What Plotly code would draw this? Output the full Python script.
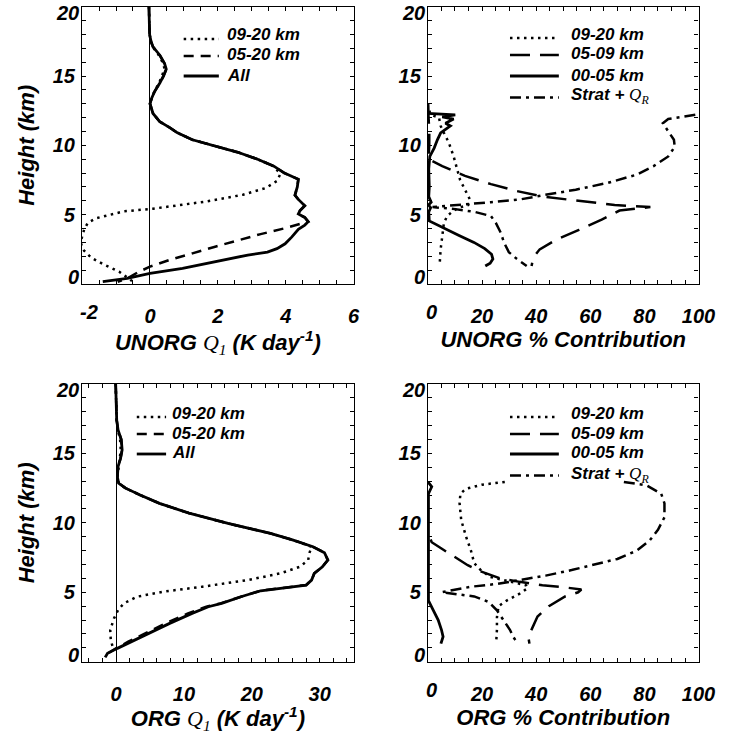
import plotly.graph_objects as go

SANS = "Liberation Sans"
SERIF = "Liberation Serif"

# ---------------- UNORG Q1 (K day-1) ----------------
uq_all_z = [20, 19, 18, 17.5, 17.1, 16.5, 15.9, 15.5, 15.0, 14.5, 13.9, 13.4, 13.0, 12.3, 11.7,
            11.3, 10.9, 10.4, 10.0, 9.5, 9.0, 8.5, 8.0, 7.55, 7.0, 6.4, 6.1, 5.65, 5.3, 5.05,
            4.8, 4.5, 4.25, 3.95, 3.4, 2.9, 2.55, 2.3, 2.09, 1.61, 1.13, 0.77, 0.41, 0.17]
uq_all_x = [-0.03, -0.03, -0.01, 0.03, 0.09, 0.29, 0.43, 0.48, 0.40, 0.29, 0.14, 0.05, 0.0, 0.09, 0.29,
            0.57, 0.81, 1.25, 1.82, 2.59, 3.17, 3.65, 3.96, 4.37, 4.34, 4.27, 4.37, 4.56, 4.42, 4.37,
            4.56, 4.66, 4.56, 4.37, 4.18, 3.98, 3.74, 3.46, 2.88, 1.92, 0.96, 0.0, -0.67, -1.39]

uq_0520_z = [20, 19, 18, 17.5, 17.1, 16.5, 15.9, 15.5, 15.0, 14.5, 13.9, 13.4, 13.0, 12.3, 11.7,
             11.3, 10.9, 10.4, 10.0, 9.5, 9.0, 8.5, 8.0, 7.55, 7.0, 6.4, 6.1, 5.65, 5.3, 5.05,
             4.8, 4.5, 4.33, 4.0, 3.6, 3.17, 2.69, 2.21, 1.73, 1.25, 0.85, 0.5, 0.15]
uq_0520_x = [-0.03, -0.03, -0.01, 0.03, 0.09, 0.29, 0.43, 0.48, 0.40, 0.29, 0.14, 0.05, 0.0, 0.09, 0.29,
             0.57, 0.81, 1.25, 1.82, 2.59, 3.17, 3.65, 3.96, 4.37, 4.34, 4.27, 4.37, 4.56, 4.42, 4.37,
             4.56, 4.66, 4.42, 3.94, 3.26, 2.59, 1.92, 1.25, 0.57, 0.0, -0.35, -0.6, -0.95]

uq_0920_z = [20, 19, 18, 17.5, 17.1, 16.5, 15.9, 15.5, 15.0, 14.5, 13.9, 13.4, 13.0, 12.3, 11.7,
             11.3, 10.9, 10.4, 10.0, 9.5, 9.0, 8.5, 7.93, 7.43, 6.92, 6.44, 5.94, 5.65, 5.43, 5.24,
             4.93, 4.74, 4.42, 3.92, 3.41, 3.0, 2.69, 2.4, 1.9, 1.39, 0.89, 0.38, 0.22]
uq_0920_x = [-0.03, -0.03, -0.01, 0.03, 0.08, 0.26, 0.39, 0.43, 0.36, 0.27, 0.13, 0.05, 0.0, 0.09, 0.29,
             0.57, 0.81, 1.25, 1.82, 2.59, 3.17, 3.65, 3.84, 3.74, 3.41, 2.74, 1.63, 0.67, 0.09, -0.77,
             -1.25, -1.59, -1.83, -1.94, -2.0, -2.04, -2.0, -1.94, -1.73, -1.35, -0.91, -0.63, -0.53]

# ---------------- ORG Q1 (K day-1) ----------------
oq_all_z = [20.0, 18.6, 17.4, 16.7, 16.0, 15.25, 14.65, 14.05, 13.3, 12.85, 12.5, 12.0, 11.4, 10.7,
            9.96, 9.24, 8.76, 8.28, 7.85, 7.32, 6.84, 6.36, 5.88, 5.52, 5.28, 5.11, 4.68, 4.2, 3.96,
            3.48, 2.76, 2.04, 1.44, 0.96, 0.6, 0.31]
oq_all_x = [-0.05, 0.0, 0.1, 0.3, 0.77, 0.9, 0.67, 0.3, 0.2, 0.4, 1.4, 3.55, 6.4, 10.75,
            16.5, 22.75, 26.1, 29.0, 30.7, 31.2, 30.4, 29.2, 28.8, 28.0, 24.2, 21.3, 18.4, 15.55, 13.6,
            11.2, 7.9, 4.75, 2.1, 0.2, -1.25, -1.6]

oq_0520_z = [20.0, 18.6, 17.4, 16.7, 16.0, 15.25, 14.65, 14.05, 13.3, 12.85, 12.5, 12.0, 11.4, 10.7,
             9.96, 9.24, 8.76, 8.28, 7.85, 7.32, 6.84, 6.36, 5.88, 5.52, 5.28, 5.11, 4.68, 4.2, 3.96,
             3.48, 2.76, 2.04, 1.44, 0.96, 0.6, 0.31]
oq_0520_x = [-0.05, 0.0, 0.1, 0.3, 0.77, 0.9, 0.67, 0.3, 0.2, 0.4, 1.4, 3.55, 6.4, 10.75,
             16.5, 22.75, 26.1, 29.0, 30.7, 31.2, 30.4, 29.2, 28.8, 28.0, 24.2, 21.3, 18.4, 15.4, 13.3,
             10.6, 7.3, 4.2, 1.8, 0.0, -1.2, -1.6]

oq_0920_z = [20.0, 18.6, 17.4, 16.7, 16.0, 15.25, 14.65, 14.05, 13.3, 12.85, 12.5, 12.0, 11.4, 10.7,
             9.96, 9.24, 8.76, 8.28, 7.85, 7.32, 6.84, 6.36, 5.88, 5.4, 5.04, 4.68, 4.2, 3.72, 3.12,
             2.28, 1.56, 1.08]
oq_0920_x = [-0.05, 0.0, 0.1, 0.25, 0.6, 0.7, 0.55, 0.3, 0.2, 0.4, 1.4, 3.55, 6.4, 10.75,
             16.5, 22.75, 26.1, 28.8, 28.5, 28.3, 27.1, 24.2, 19.4, 12.7, 6.9, 3.1, 1.15, 0.3, -0.3,
             -0.85, -0.77, -0.5]

# ---------------- UNORG % contribution ----------------
up_0920_z = [12.5, 12.2, 12.0, 11.4, 10.9, 10.2, 9.2, 8.25, 7.5, 6.8, 6.1, 5.7, 5.5, 5.2, 4.9,
             4.4, 3.45, 2.5, 1.3]
up_0920_x = [0.5, 1.1, 4.1, 4.7, 5.9, 7.7, 9.5, 10.7, 11.9, 13.7, 15.5, 14.9, 11.3, 8.9, 7.1,
             5.9, 5.3, 4.7, 4.3]

up_0509_z = [13.0, 12.0, 11.0, 10.0, 9.0, 8.5, 7.8, 7.2, 6.7, 6.3, 6.0, 5.7, 5.55, 5.4, 5.3,
             5.0, 4.65, 3.9, 3.2, 2.5, 1.9, 1.3]
up_0509_x = [0.0, 0.3, 0.5, 0.5, 0.2, 5.3, 13.7, 23.3, 32.9, 42.5, 55.8, 69.0, 82.2, 76.2, 70.8,
             67.8, 64.2, 55.8, 47.4, 41.3, 38.9, 38.3]

up_0005_z = [13.0, 12.3, 12.2, 12.05, 11.9, 11.6, 11.4, 11.1, 10.9, 10.4, 9.8, 9.2, 8.3, 7.0,
             6.3, 5.9, 5.7, 5.5, 5.2, 4.55, 4.05, 3.5, 3.0, 2.55, 2.15, 1.8, 1.5, 1.3]
up_0005_x = [0.0, 0.0, 10.1, 5.3, 9.5, 6.5, 8.3, 5.9, 4.7, 3.5, 2.3, 0.7, 0.3, 0.5,
             0.3, 1.2, 0.2, 1.0, 0.3, 0.5, 5.5, 11.5, 17.0, 21.0, 23.5, 24.0, 23.0, 21.2]

up_strat_z = [12.2, 11.9, 11.6, 11.0, 10.4, 9.9, 9.2, 8.5, 7.9, 7.3, 6.8, 6.4, 6.1, 5.9, 5.7,
              5.55, 5.4, 5.2, 4.9, 4.4, 3.7, 3.0, 2.3, 1.8, 1.3]
up_strat_x = [98.8, 88.8, 86.8, 88.8, 90.9, 91.2, 88.8, 83.4, 77.4, 66.6, 54.6, 42.5, 34.1, 23.3, 11.3,
              1.7, 10.1, 17.3, 23.3, 25.1, 26.9, 28.1, 29.9, 32.9, 36.5]

# ---------------- ORG % contribution ----------------
op_0920_z = [12.95, 12.75, 12.45, 12.1, 11.4, 10.2, 9.0, 8.0, 7.1, 6.6, 6.1, 5.75, 5.5, 5.3, 4.9,
             4.4, 4.0, 3.2, 2.3, 1.3]
op_0920_x = [28.4, 20.0, 14.0, 12.0, 11.7, 12.3, 14.1, 15.9, 17.1, 19.5, 23.1, 30.3, 36.3, 36.9, 33.9,
             29.1, 26.1, 25.5, 25.5, 25.2]

op_0509_z = [8.8, 8.6, 8.15, 7.55, 6.95, 6.5, 6.0, 5.75, 5.5, 5.35, 5.2, 5.0, 4.7, 4.0, 3.25, 2.4,
             1.8, 1.3]
op_0509_x = [1.0, 1.4, 5.0, 9.9, 14.7, 19.5, 26.7, 33.9, 42.3, 50.7, 56.7, 55.5, 50.7, 44.7, 40.5, 38.5,
             37.1, 37.5]

op_0005_z = [12.95, 12.6, 12.1, 9.0, 6.6, 4.4, 3.7, 3.0, 2.3, 1.8, 1.3]
op_0005_x = [0.0, 1.4, 0.2, 0.2, 0.0, 0.2, 2.0, 3.8, 5.0, 5.6, 4.8]

op_strat_z = [12.95, 12.7, 12.1, 11.4, 10.4, 9.5, 8.75, 8.0, 7.4, 7.0, 6.6, 6.2, 5.9, 5.6, 5.4,
              5.15, 5.0, 4.85, 4.7, 4.3, 3.7, 3.0, 2.3, 1.8, 1.45, 1.3]
op_strat_x = [72.4, 80.8, 86.2, 87.4, 87.4, 85.0, 82.0, 77.2, 70.0, 61.6, 53.1, 43.5, 33.9, 25.5, 15.9,
              8.7, 5.1, 11.1, 17.1, 22.5, 25.5, 27.9, 30.3, 31.5, 32.7, 32.0]

# ---------------- axis ticks ----------------
y_range = [0, 20]
y_labels = [0, 5, 10, 15, 20]
x_ranges = {"x": [-2, 6], "x2": [0, 100], "x3": [-5, 35], "x4": [0, 100]}
x_labels = {"x": [-2, 0, 2, 4, 6], "x2": [0, 20, 40, 60, 80, 100],
            "x3": [0, 10, 20, 30], "x4": [0, 20, 40, 60, 80, 100]}
x_minor = {"x": 0.5, "x2": 5, "x3": 2, "x4": 5}

QR = f'<span style="font-family:{SERIF};font-weight:normal">Q<sub>R</sub></span>'
Q1 = f'<span style="font-family:{SERIF};font-weight:normal">Q<sub>1</sub></span>'
x_titles = {
    "x": f"UNORG {Q1} (K day<sup>-1</sup>)",
    "x2": "UNORG % Contribution",
    "x3": f"ORG {Q1} (K day<sup>-1</sup>)",
    "x4": "ORG % Contribution",
}
y_title = "Height (km)"

names_q = ["09-20 km", "05-20 km", "All"]
names_p = ["09-20 km", "05-09 km", "00-05 km", f"Strat + {QR}"]

DOT = dict(width=2.5, dash="2.5px,4.5px")
DASH = dict(width=2.5, dash="10px,7px")
LDASH = dict(width=2.5, dash="20px,10px")
SOLID = dict(width=2.8, dash="solid")
DASHDOT = dict(width=2.5, dash="11px,5px,3px,5px")

fig = go.Figure()
legend_items = {"x": [], "x2": [], "x3": [], "x4": []}


def add(xv, zv, name, style, ax):
    fig.add_trace(go.Scatter(
        x=xv, y=zv, mode="lines", name=name,
        line=dict(color="black", **style),
        xaxis=ax, yaxis=ax.replace("x", "y"), showlegend=False,
        hoverinfo="skip",
    ))
    legend_items[ax].append((name, style))


add(uq_0920_x, uq_0920_z, names_q[0], DOT, "x")
add(uq_0520_x, uq_0520_z, names_q[1], DASH, "x")
add(uq_all_x, uq_all_z, names_q[2], SOLID, "x")

add(up_0920_x, up_0920_z, names_p[0], DOT, "x2")
add(up_0509_x, up_0509_z, names_p[1], LDASH, "x2")
add(up_0005_x, up_0005_z, names_p[2], SOLID, "x2")
add(up_strat_x, up_strat_z, names_p[3], DASHDOT, "x2")

add(oq_0920_x, oq_0920_z, names_q[0], DOT, "x3")
add(oq_0520_x, oq_0520_z, names_q[1], DASH, "x3")
add(oq_all_x, oq_all_z, names_q[2], SOLID, "x3")

add(op_0920_x, op_0920_z, names_p[0], DOT, "x4")
add(op_0509_x, op_0509_z, names_p[1], LDASH, "x4")
add(op_0005_x, op_0005_z, names_p[2], SOLID, "x4")
add(op_strat_x, op_strat_z, names_p[3], DASHDOT, "x4")

W, H = 739, 734
TICKFONT = dict(family=SANS, size=20, color="black", weight="bold", style="italic")
TITLEFONT = dict(family=SANS, size=22, color="black", weight="bold", style="italic")
LEGFONT = dict(family=SANS, size=17, color="black", weight="bold", style="italic")

# panel frames in page pixels: left, right, top, bottom
frames = {"x": (84, 362, 6.7, 284), "x2": (438, 715, 6.7, 284),
          "x3": (84, 362, 384, 661.7), "x4": (438, 715, 384, 661.7)}

# legend layout in page pixels: key start, key end, text start, row centres
legend_boxes = {
    "x": (188, 224, 231, [35, 55, 75]),
    "x2": (522, 572, 583, [34, 54, 75, 96.5]),
    "x3": (140, 170, 175, [413, 433, 453]),
    "x4": (522, 572, 583, [413, 433, 453, 474.5]),
}

common = dict(showline=True, linecolor="black", linewidth=1.2, mirror="allticks",
              ticks="inside", ticklen=4, tickwidth=1, tickcolor="black",
              showgrid=False, tickfont=TICKFONT)

annotations = []
shapes = []
layout_axes = {}
for ax in ["x", "x2", "x3", "x4"]:
    ya = ax.replace("x", "y")
    L, R, T, B = frames[ax]
    lo, hi = x_ranges[ax]
    inner_x = [v for v in x_labels[ax] if v > lo]
    layout_axes["xaxis" + ax[1:]] = dict(
        domain=[L / W, R / W], anchor=ya, range=[lo, hi],
        tickmode="array", tickvals=inner_x, ticktext=[f"{v:g}" for v in inner_x],
        minor=dict(dtick=x_minor[ax], tick0=0, ticks="inside", ticklen=4,
                   tickwidth=1, tickcolor="black", showgrid=False),
        zeroline=(lo < 0), zerolinecolor="black", zerolinewidth=1.2,
        ticklabelstandoff=14,
        title=dict(text=x_titles[ax], font=TITLEFONT, standoff=5),
        **common,
    )
    inner_y = y_labels[1:-1]
    layout_axes["yaxis" + ax[1:]] = dict(
        domain=[1 - B / H, 1 - T / H], anchor=ax, range=y_range,
        tickmode="array", tickvals=inner_y, ticktext=[str(v) for v in inner_y],
        minor=dict(dtick=1, tick0=0, ticks="inside", ticklen=4,
                   tickwidth=1, tickcolor="black", showgrid=False),
        zeroline=False,
        ticklabelstandoff=2,
        title=dict(text=y_title if ax in ("x", "x3") else None, font=TITLEFONT, standoff=12),
        **common,
    )
    # end labels of the height axis are kept inside the frame
    for v, anchor, shift in ((y_labels[0], "bottom", -5), (y_labels[-1], "top", 6)):
        annotations.append(dict(
            text=str(v), xref=ax + " domain", yref=ya, x=0, y=v,
            xanchor="right", yanchor=anchor, xshift=-2, yshift=shift, showarrow=False,
            font=TICKFONT, borderpad=0,
        ))
    # a label on the left edge of the x range is pushed inwards
    if x_labels[ax][0] == lo:
        annotations.append(dict(
            text=f"{lo:g}", xref=ax, yref=ya + " domain", x=lo, y=0,
            xanchor="left", yanchor="top", xshift=-3, yshift=-16, showarrow=False,
            font=TICKFONT, borderpad=0,
        ))

    # legend: line key + label for each curve
    k0, k1, tx, rows = legend_boxes[ax]
    for (name, style), row in zip(legend_items[ax], rows):
        key_y = row + (4 if style is DOT else 1)
        shapes.append(dict(
            type="line", xref="paper", yref="paper",
            x0=k0 / W, x1=k1 / W, y0=1 - key_y / H, y1=1 - key_y / H,
            line=dict(color="black", **style),
        ))
        annotations.append(dict(
            text=name, xref="paper", yref="paper", x=tx / W, y=1 - row / H,
            xanchor="left", yanchor="middle", showarrow=False,
            font=LEGFONT, borderpad=0,
        ))

fig.update_layout(
    width=W, height=H, margin=dict(l=0, r=0, t=0, b=0),
    paper_bgcolor="white", plot_bgcolor="white",
    font=dict(family=SANS, color="black"),
    showlegend=False,
    annotations=annotations,
    shapes=shapes,
    **layout_axes,
)

fig.write_html("out.html")
